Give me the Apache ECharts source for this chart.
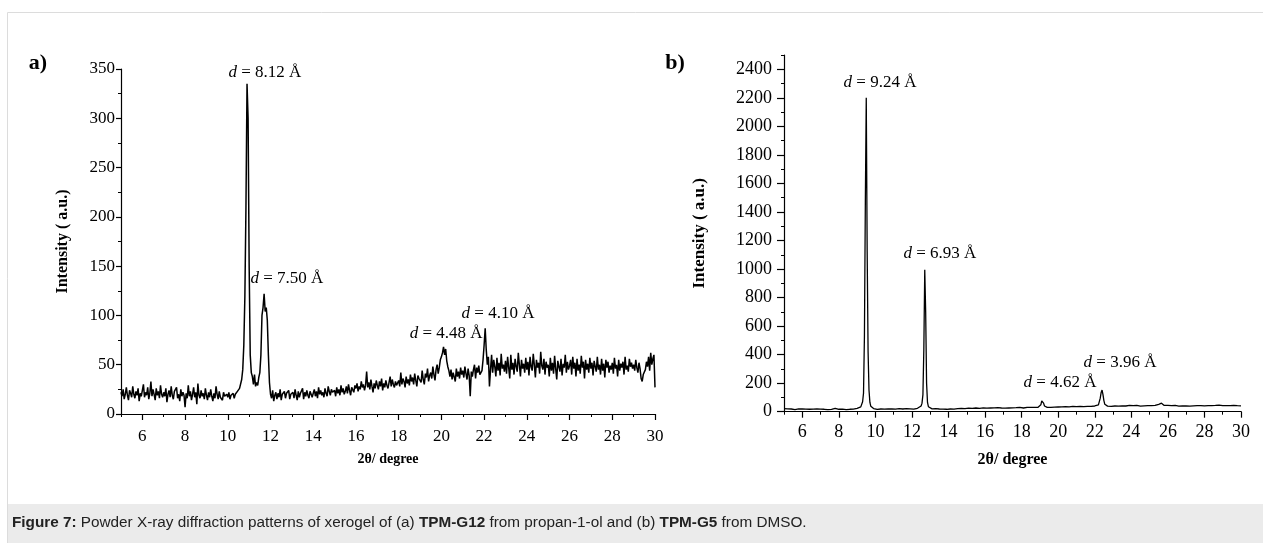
<!DOCTYPE html>
<html>
<head>
<meta charset="utf-8">
<script src="https://cdn.jsdelivr.net/npm/echarts@6/dist/echarts.min.js"></script>
<style>
html,body{margin:0;padding:0;background:#fff;}
#chart{width:1263px;height:543px;}
</style>
</head>
<body>
<div id="chart"></div>
<script>
// ---------- Panel a: TPM-G12 (2θ from 5.00 to 30.00, step 0.05) ----------
var startA = 5, stepA = 0.05;
var intensityA = [
 22,18,25,15,20,27,19,14,24,21,17,28,20,16,23,19,26,13,21,18,
 24,30,17,22,19,27,15,21,33,18,25,20,14,26,19,23,16,29,20,17,
 22,18,26,12,20,24,17,28,19,15,23,21,27,16,20,13,25,18,22,19,
 7,21,16,29,18,23,14,20,27,17,22,10,31,19,16,24,18,21,15,26,
 19,14,22,17,25,18,13,21,16,28,20,15,23,17,19,14,22,18,16,20,
 17,22,15,19,18,21,16,20,19,23,21,26,28,35,45,70,120,210,335,300,
 150,60,42,38,30,40,28,32,29,37,42,60,100,108,122,104,108,95,60,32,
 20,16,24,13,19,22,15,21,17,25,14,20,18,23,16,21,19,24,15,20,
 18,22,16,25,19,14,23,17,21,20,26,15,22,18,24,19,16,23,20,17,
 21,25,18,23,16,27,20,24,19,22,17,26,21,18,28,23,19,25,22,20,
 24,18,27,21,25,19,29,22,26,20,23,28,21,30,24,19,27,25,22,29,
 26,31,23,28,25,33,27,30,24,29,43,27,32,25,35,28,22,31,26,34,
 29,25,33,28,36,24,31,27,34,29,26,32,38,28,35,30,27,33,29,31,
 34,28,42,30,36,33,27,38,31,35,29,40,33,37,30,41,34,28,39,36,
 38,32,44,35,30,41,37,46,33,39,42,36,48,40,34,45,50,41,47,55,
 58,62,68,60,66,54,48,44,38,45,35,42,40,33,46,38,43,36,47,40,
 44,37,48,41,35,46,39,18,43,38,45,50,36,47,42,49,40,38,44,55,
 70,87,65,50,58,28,45,60,42,55,48,38,57,44,52,39,61,46,50,43,
 54,41,58,47,36,60,45,52,40,56,48,43,62,50,38,55,46,51,42,57,
 45,53,39,58,48,44,61,50,37,55,47,52,41,63,49,45,56,40,53,47,
 50,38,57,44,52,41,59,46,35,54,48,43,56,39,51,47,60,42,53,45,
 49,55,40,58,46,52,38,56,44,50,41,59,47,53,36,55,45,51,42,57,
 46,52,39,54,48,43,58,45,50,40,56,44,51,37,55,47,53,42,49,45,
 52,41,57,46,50,38,55,44,51,47,53,40,58,45,49,43,56,48,52,46,
 50,44,55,47,42,52,46,36,33,40,38,45,53,48,58,44,62,50,56,60,
 27
];

// ---------- Panel b: TPM-G5 ----------
var twoThetaB = [
 5.0,5.1,5.2,5.3,5.4,5.5,5.6,5.7,5.8,5.9,
 6.0,6.1,6.2,6.3,6.4,6.5,6.6,6.7,6.8,6.9,
 7.0,7.1,7.2,7.3,7.4,7.5,7.6,7.7,7.8,7.9,
 8.0,8.1,8.2,8.3,8.4,8.5,8.6,8.7,8.8,8.9,
 9.0,9.1,9.2,9.25,9.3,9.35,9.4,9.45,9.5,9.55,9.6,9.65,9.7,9.75,9.8,9.9,
 10.0,10.1,10.2,10.3,10.4,10.5,10.6,10.7,10.8,10.9,
 11.0,11.1,11.2,11.3,11.4,11.5,11.6,11.7,11.8,11.9,
 12.0,12.1,12.2,12.3,12.4,12.5,12.55,12.6,12.65,12.7,12.75,12.8,12.85,12.9,13.0,
 13.1,13.2,13.3,13.4,13.5,13.6,13.7,13.8,13.9,
 14.0,14.1,14.2,14.3,14.4,14.5,14.6,14.7,14.8,14.9,
 15.0,15.1,15.2,15.3,15.4,15.5,15.6,15.7,15.8,15.9,
 16.0,16.1,16.2,16.3,16.4,16.5,16.6,16.7,16.8,16.9,
 17.0,17.1,17.2,17.3,17.4,17.5,17.6,17.7,17.8,17.9,
 18.0,18.1,18.2,18.3,18.4,18.5,18.6,18.7,18.8,18.9,
 19.0,19.05,19.1,19.15,19.2,19.25,19.3,19.4,19.5,19.6,19.7,19.8,19.9,
 20.0,20.1,20.2,20.3,20.4,20.5,20.6,20.7,20.8,20.9,
 21.0,21.1,21.2,21.3,21.4,21.5,21.6,21.7,21.8,21.9,
 22.0,22.1,22.2,22.25,22.3,22.35,22.4,22.45,22.5,22.55,22.6,22.7,
 22.8,22.9,23.0,23.1,23.2,23.3,23.4,23.5,23.6,23.7,23.8,23.9,
 24.0,24.1,24.2,24.3,24.4,24.5,24.6,24.7,24.8,24.9,
 25.0,25.1,25.2,25.3,25.4,25.5,25.6,25.65,25.7,25.8,25.9,
 26.0,26.1,26.2,26.3,26.4,26.5,26.6,26.7,26.8,26.9,
 27.0,27.1,27.2,27.3,27.4,27.5,27.6,27.7,27.8,27.9,
 28.0,28.1,28.2,28.3,28.4,28.5,28.6,28.7,28.8,28.9,
 29.0,29.1,29.2,29.3,29.4,29.5,29.6,29.7,29.8,29.9,30.0
];
var intensityB = [
 22,18,20,16,19,21,15,18,20,17,
 19,16,18,21,17,26,18,15,19,16,
 18,14,17,19,15,18,16,19,24,15,
 17,14,18,16,15,19,17,20,18,22,
 24,27,34,45,70,130,530,1470,2200,1120,420,150,65,38,28,22,
 20,17,16,19,15,18,17,20,16,19,
 15,18,17,21,16,19,18,22,30,20,
 19,18,21,24,28,40,60,120,440,995,700,200,65,35,24,
 20,18,21,17,19,22,18,20,17,
 21,19,23,18,20,22,19,24,20,22,
 21,25,20,23,22,26,21,24,23,27,
 36,25,23,26,24,27,25,28,24,26,
 27,25,28,26,29,27,25,28,27,30,
 28,26,29,31,28,30,36,30,29,31,
 34,48,75,87,60,40,32,30,33,31,34,32,35,
 33,36,34,32,35,37,34,36,38,44,
 36,38,37,43,36,39,37,40,38,41,
 40,42,48,62,95,135,152,120,78,52,42,39,
 41,38,42,40,43,39,44,41,43,40,42,45,
 41,43,40,44,42,39,43,41,45,42,
 40,43,41,44,46,52,66,60,50,44,42,
 45,41,43,40,44,42,39,43,41,44,
 40,42,39,43,41,38,42,40,43,39,
 41,38,42,40,43,41,44,42,46,49,
 43,40,42,39,43,40,44,38,42,40,41
];

// axis ticks
var xMajorTicks = [6,8,10,12,14,16,18,20,22,24,26,28,30];
var yTicksA = [0,50,100,150,200,250,300,350];
var yTicksB = [0,200,400,600,800,1000,1200,1400,1600,1800,2000,2200,2400];

// peak annotations: [text, 2θ, intensity] (label anchor)
var annotationsA = [
 ['8.12', 11.74, 346],
 ['7.50', 12.77, 137],
 ['4.48', 20.22, 82],
 ['4.10', 22.65, 102]
];
var annotationsB = [
 ['9.24', 10.25, 2304],
 ['6.93', 13.53, 1112],
 ['4.62', 20.10, 201],
 ['3.96', 23.38, 348]
];

var dataA = intensityA.map(function (v, i) {
  return [+(startA + stepA * i).toFixed(2), v];
});
var dataB = twoThetaB.map(function (x, i) { return [x, intensityB[i]]; });

var SERIF = '"Liberation Serif", "Times New Roman", serif';
var SANS = '"Liberation Sans", Arial, sans-serif';
function plain(v) { return String(v); }

function markPts(list, size) {
  return {
    symbol: 'circle', symbolSize: 0,
    silent: true,
    label: {
      show: true, position: 'inside',
      fontFamily: SERIF, fontSize: size, color: '#000',
      formatter: function (p) { return '{i|d} = ' + p.name + ' Å'; },
      rich: { i: { fontStyle: 'italic', fontFamily: SERIF, fontSize: size, color: '#000' } }
    },
    data: list.map(function (a) { return { name: a[0], coord: [a[1], a[2]] }; })
  };
}

function xAxes(grid, fs, nameFs, nameGap, margin) {
  return [
    {
      type: 'value', gridIndex: grid, min: 5, max: 30, position: 'bottom',
      name: '2θ/ degree', nameLocation: 'middle', nameGap: nameGap,
      nameTextStyle: { fontFamily: SERIF, fontWeight: 'bold', fontSize: nameFs, color: '#000' },
      axisLine: { lineStyle: { color: '#000', width: 1.2 } },
      axisTick: { customValues: xMajorTicks, length: 6, lineStyle: { color: '#000', width: 1.2 } },
      axisLabel: { customValues: xMajorTicks, formatter: plain, fontFamily: SERIF, fontSize: fs, color: '#000', margin: margin },
      splitLine: { show: false }
    },
    {
      type: 'value', gridIndex: grid, min: 5, max: 30, interval: 1, position: 'bottom',
      axisLine: { show: false },
      axisTick: { length: 3, lineStyle: { color: '#000', width: 1 } },
      axisLabel: { show: false },
      splitLine: { show: false }
    }
  ];
}

function yAxes(grid, max, ticks, minorStep, fs, nameFs, gap, tickLen, margin) {
  return [
    {
      type: 'value', gridIndex: grid, min: 0, max: max, position: 'left',
      name: 'Intensity ( a.u.)', nameLocation: 'middle', nameGap: gap, nameRotate: 90,
      nameTextStyle: { fontFamily: SERIF, fontWeight: 'bold', fontSize: nameFs, color: '#000' },
      axisLine: { show: true, lineStyle: { color: '#000', width: 1.2 } },
      axisTick: { customValues: ticks, length: tickLen, lineStyle: { color: '#000', width: 1.2 } },
      axisLabel: { customValues: ticks, formatter: plain, fontFamily: SERIF, fontSize: fs, color: '#000', margin: margin },
      splitLine: { show: false }
    },
    {
      type: 'value', gridIndex: grid, min: 0, max: max, interval: minorStep, position: 'left',
      axisLine: { show: false },
      axisTick: { length: 3, lineStyle: { color: '#000', width: 1 } },
      axisLabel: { show: false },
      splitLine: { show: false }
    }
  ];
}

var chart = echarts.init(document.getElementById('chart'), null, { renderer: 'canvas' });
chart.setOption({
  backgroundColor: '#fff',
  animation: false,
  grid: [
    { left: 121, top: 69, width: 534, height: 345 },
    { left: 784, top: 55, width: 457, height: 356.7 }
  ],
  xAxis: xAxes(0, 17, 14, 38, 14).concat(xAxes(1, 18, 16, 40, 12)),
  yAxis: yAxes(0, 350, yTicksA, 25, 17, 16, 50, 5, 6).concat(yAxes(1, 2500, yTicksB, 100, 18, 17, 76, 7, 12)),
  series: [
    {
      type: 'line', xAxisIndex: 0, yAxisIndex: 0, data: dataA,
      showSymbol: false, lineStyle: { color: '#000', width: 1.5 }, silent: true,
      markPoint: markPts(annotationsA, 17)
    },
    {
      type: 'line', xAxisIndex: 2, yAxisIndex: 2, data: dataB,
      showSymbol: false, lineStyle: { color: '#000', width: 1.3 }, silent: true,
      markPoint: markPts(annotationsB, 17)
    }
  ],
  graphic: [
    { type: 'rect', shape: { x: 7.5, y: 12.5, width: 1262, height: 532 }, style: { fill: 'none', stroke: '#dcdcdc', lineWidth: 1 }, silent: true },
    { type: 'rect', shape: { x: 8, y: 504, width: 1260, height: 40 }, style: { fill: '#ebebeb' }, silent: true },
    { type: 'text', x: 38, y: 63, style: { text: 'a)', font: 'bold 22px ' + SERIF, fill: '#000', align: 'center', verticalAlign: 'middle' } },
    { type: 'text', x: 675, y: 63, style: { text: 'b)', font: 'bold 22px ' + SERIF, fill: '#000', align: 'center', verticalAlign: 'middle' } },
    { type: 'text', x: 12, y: 523, style: {
        text: '{b|Figure 7:} Powder X-ray diffraction patterns of xerogel of (a) {b|TPM-G12} from propan-1-ol and (b) {b|TPM-G5} from DMSO.',
        fontFamily: SANS, fontSize: 15.3, fill: '#222', verticalAlign: 'middle',
        rich: { b: { fontFamily: SANS, fontSize: 15.3, fontWeight: 'bold', fill: '#222' } }
      } }
  ]
});
</script>
</body>
</html>
